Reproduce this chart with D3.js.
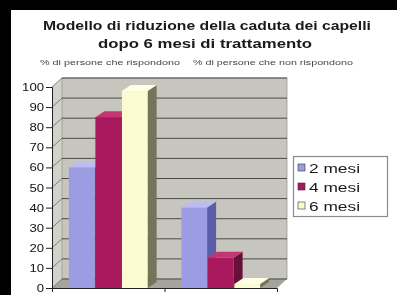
<!DOCTYPE html>
<html><head><meta charset="utf-8">
<script src="https://cdn.jsdelivr.net/npm/d3@7"></script>
<style>html,body{margin:0;padding:0;background:#fff;}svg{display:block;filter:blur(0.4px);}</style>
</head><body>
<svg id="c" width="397" height="295"></svg>
<script>
const titleLines = ["Modello di riduzione della caduta dei capelli", "dopo 6 mesi di trattamento"];
const categories = ["% di persone che rispondono", "% di persone che non rispondono"];
const series = ["2 mesi", "4 mesi", "6 mesi"];
const values2 = [60, 40];
const values4 = [85, 15];
const values6 = [98, 2];
const yTicks = [0,10,20,30,40,50,60,70,80,90,100];

const seriesValues = [values2, values4, values6];
const colors = [
  {front:"#9c9ce2", top:"#bcbcf2", side:"#5c5caa"},
  {front:"#a8185c", top:"#c43672", side:"#681038"},
  {front:"#fbfbd2", top:"#ffffe6", side:"#74745a"}
];

const svg = d3.select("#c");
// black frame
svg.append("rect").attr("x",0).attr("y",0).attr("width",397).attr("height",10).attr("fill","#000");
svg.append("rect").attr("x",0).attr("y",0).attr("width",11).attr("height",295).attr("fill","#000");

const y = d3.scaleLinear().domain([0,100]).range([288,87]);
const x0 = d3.scaleBand().domain(categories).range([52,277]).paddingInner(0.3).paddingOuter(0.15);
const x1 = d3.scaleBand().domain(series).range([0, x0.bandwidth()]).paddingInner(0.03);
const DX = 10, DY = -9;     // wall depth
const bdx = 9, bdy = -6;    // bar depth

const x0L = x0.range()[0], x0R = x0.range()[1];
// left wall
svg.append("polygon").attr("points", [[x0L,y(100)],[x0L+DX,y(100)+DY],[x0L+DX,y(0)+DY],[x0L,y(0)]].join(" "))
  .attr("fill","#d2d2ca");
// back wall
svg.append("rect").attr("x",x0L+DX).attr("y",y(100)+DY).attr("width",x0R-x0L).attr("height",y(0)-y(100))
  .attr("fill","#c6c6be").attr("stroke","#9a9a94").attr("stroke-width",0.8);
// floor
svg.append("polygon").attr("points", [[x0L,y(0)],[x0R,y(0)],[x0R+DX,y(0)+DY],[x0L+DX,y(0)+DY]].join(" "))
  .attr("fill","#a4a49c");
// gridlines
yTicks.forEach(t => {
  svg.append("line").attr("x1",x0L+DX).attr("x2",x0R+DX).attr("y1",y(t)+DY).attr("y2",y(t)+DY)
    .attr("stroke","#4a4a4a").attr("stroke-width",1);
  svg.append("line").attr("x1",x0L).attr("x2",x0L+DX).attr("y1",y(t)).attr("y2",y(t)+DY)
    .attr("stroke","#6a6a6a").attr("stroke-width",0.8);
});

// bars
categories.forEach((c, ci) => {
  series.forEach((s, si) => {
    const v = seriesValues[si][ci];
    const xa = x0(c) + x1(s), w = x1.bandwidth();
    const yt = y(v), yb = y(0);
    const g = svg.append("g");
    g.append("polygon").attr("points", [[xa+w,yt],[xa+w+bdx,yt+bdy],[xa+w+bdx,yb+bdy],[xa+w,yb]].join(" ")).attr("fill",colors[si].side);
    g.append("polygon").attr("points", [[xa,yt],[xa+bdx,yt+bdy],[xa+w+bdx,yt+bdy],[xa+w,yt]].join(" ")).attr("fill",colors[si].top);
    g.append("rect").attr("x",xa).attr("y",yt).attr("width",w).attr("height",yb-yt).attr("fill",colors[si].front);
  });
});

// y axis
const yAxis = svg.append("g").attr("transform",`translate(${x0L},0)`)
  .call(d3.axisLeft(y).tickValues(yTicks).tickSize(6).tickPadding(2));
yAxis.select(".domain").attr("stroke","#222").attr("stroke-width",1);
yAxis.selectAll(".tick line").attr("stroke","#222");
yAxis.selectAll(".tick text").attr("font-family","Liberation Sans, Arial, sans-serif").attr("font-size",11)
  .attr("fill","#111").attr("textLength", d => String(d).length*7.3).attr("lengthAdjust","spacingAndGlyphs");
// x axis (no labels, tick between categories)
const xAxis = svg.append("g").attr("transform",`translate(0,${y(0)})`)
  .call(d3.axisBottom(d3.scaleLinear().domain([0,categories.length]).range([x0L,x0R])).tickValues([1]).tickSize(4).tickFormat(""));
xAxis.select(".domain").attr("stroke","#222");
xAxis.selectAll(".tick line").attr("stroke","#222");

// titles
const tf = "Liberation Sans, Arial, sans-serif";
svg.append("text").attr("x",207).attr("y",30).attr("text-anchor","middle").attr("font-family",tf)
  .attr("font-weight","bold").attr("font-size",12.5).attr("fill","#1a1a1a")
  .attr("textLength",328).attr("lengthAdjust","spacingAndGlyphs").text(titleLines[0]);
svg.append("text").attr("x",205).attr("y",48).attr("text-anchor","middle").attr("font-family",tf)
  .attr("font-weight","bold").attr("font-size",12.5).attr("fill","#1a1a1a")
  .attr("textLength",214).attr("lengthAdjust","spacingAndGlyphs").text(titleLines[1]);
// category labels as subtitle
const subX = [[40,140],[193,160]];
categories.forEach((c,i) => {
  svg.append("text").attr("x",subX[i][0]).attr("y",65).attr("font-family",tf).attr("font-size",6.5)
    .attr("fill","#444").attr("textLength",subX[i][1]).attr("lengthAdjust","spacingAndGlyphs").text(c);
});

// legend
svg.append("rect").attr("x",293.5).attr("y",156.5).attr("width",94).attr("height",60)
  .attr("fill","#fff").attr("stroke","#8a8a8a").attr("stroke-width",1.2);
series.forEach((s,i) => {
  const cy = 168 + i*19;
  svg.append("rect").attr("x",298).attr("y",cy-4).attr("width",7).attr("height",7)
    .attr("fill",colors[i].front).attr("stroke","#333").attr("stroke-width",0.6);
  svg.append("text").attr("x",309).attr("y",cy+4.5).attr("font-family",tf).attr("font-size",12.5)
    .attr("fill","#1a1a1a").attr("textLength",51).attr("lengthAdjust","spacingAndGlyphs").text(s);
});
</script>
</body></html>
